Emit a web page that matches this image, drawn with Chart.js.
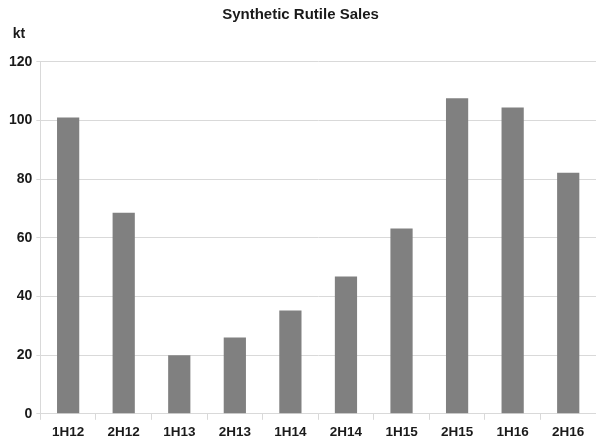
<!DOCTYPE html>
<html><head><meta charset="utf-8">
<script src="https://cdn.jsdelivr.net/npm/chart.js@4"></script>
<style>html,body{margin:0;padding:0;background:#fff}#wrap{width:596px;height:447px}</style>
</head><body><div id="wrap"><canvas id="c"></canvas></div>
<script>
const categories = ["1H12","2H12","1H13","2H13","1H14","2H14","1H15","2H15","1H16","2H16"];
const sales = [101, 68.5, 20, 26, 35.2, 46.8, 63.2, 107.6, 104.4, 82.2];
const yTicks = [0, 20, 40, 60, 80, 100, 120];
const titleText = "Synthetic Rutile Sales";
const unitText = "kt";

const font = "'Liberation Sans', Arial, sans-serif";
new Chart(document.getElementById('c'), {
  type: 'bar',
  data: { labels: categories, datasets: [{ data: sales, backgroundColor: '#808080', borderWidth: 0, barPercentage: 0.8, categoryPercentage: 0.5 }] },
  options: {
    responsive: true, maintainAspectRatio: false, animation: false,
    layout: { padding: { left: 5, right: 0, top: 4, bottom: 3 } },
    plugins: {
      legend: { display: false }, tooltip: { enabled: false },
      title: { display: true, text: titleText, color: '#1a1a1a', font: { family: font, size: 15, weight: 'bold' }, padding: { top: 2, bottom: 2 } },
      subtitle: { display: true, text: '  ' + unitText, align: 'start', color: '#1a1a1a', font: { family: font, size: 14, weight: 'bold' }, padding: { top: 0, bottom: 19 } }
    },
    scales: {
      x: {
        grid: { display: true, drawOnChartArea: false, drawTicks: true, tickLength: 6, color: '#d9d9d9', offset: true },
        border: { color: '#d9d9d9' },
        ticks: { color: '#1a1a1a', font: { family: font, size: 13.5, weight: 'bold' }, padding: 4, maxRotation: 0 }
      },
      y: {
        min: 0, max: 120,
        afterBuildTicks: (s) => { s.ticks = yTicks.map(v => ({ value: v })); },
        grid: { color: '#d9d9d9', tickLength: 4 },
        border: { color: '#d9d9d9' },
        ticks: { color: '#1a1a1a', font: { family: font, size: 14, weight: 'bold' }, padding: 4 }
      }
    }
  }
});
</script></body></html>
